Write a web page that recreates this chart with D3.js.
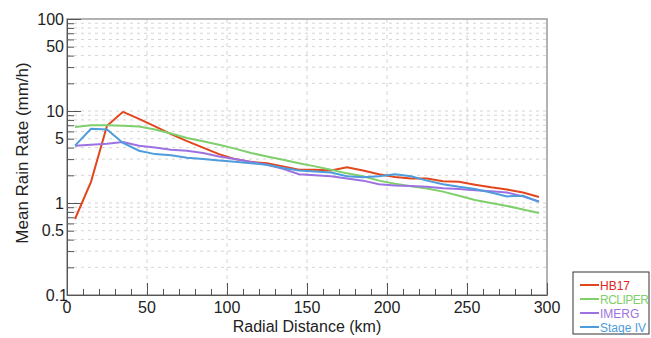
<!DOCTYPE html>
<meta charset="utf-8">
<head>
    <style>
        body { margin: 0; background: #fff; }
        text { font-family: "Liberation Sans", Arial, sans-serif; fill: #222; }
        .grid line { stroke: #d4d4d4; stroke-width: 1; }
    </style>
</head>
<body>
    <svg width="651" height="338"></svg>
</body>
<script src="https://d3js.org/d3.v7.min.js"></script>
<script>

    // radial bins (km)
    var distance = d3.range(5, 300, 10);

    var hb17 = [0.67, 1.7, 6.9, 9.8, 8.2, 6.8, 5.6, 4.7, 4.0, 3.4,
        3.0, 2.8, 2.7, 2.5, 2.3, 2.3, 2.25, 2.45, 2.25, 2.05,
        1.92, 1.85, 1.85, 1.72, 1.7, 1.58, 1.48, 1.4, 1.3, 1.16];
    var rcliper = [6.7, 7.0, 7.0, 6.9, 6.8, 6.3, 5.7, 5.1, 4.7, 4.3,
        3.9, 3.5, 3.2, 2.95, 2.7, 2.5, 2.3, 2.1, 1.95, 1.75,
        1.62, 1.52, 1.44, 1.33, 1.2, 1.08, 1.0, 0.93, 0.85, 0.78];
    var imerg = [4.2, 4.3, 4.4, 4.6, 4.2, 4.0, 3.8, 3.7, 3.5, 3.2,
        3.0, 2.8, 2.6, 2.35, 2.05, 2.0, 1.95, 1.85, 1.75, 1.6,
        1.55, 1.53, 1.5, 1.45, 1.42, 1.38, 1.34, 1.3, 1.18, 1.04];
    var stage4 = [4.2, 6.4, 6.3, 4.5, 3.7, 3.4, 3.3, 3.1, 3.0, 2.9,
        2.8, 2.7, 2.6, 2.4, 2.25, 2.2, 2.15, 1.95, 1.9, 1.95,
        2.05, 1.95, 1.75, 1.6, 1.5, 1.42, 1.3, 1.18, 1.2, 1.03];

    var seriesNames = ["HB17", "RCLIPER", "IMERG", "Stage IV"];
    var seriesColors = ["#e2461c", "#7fcf6c", "#9c72e2", "#4e9cdc"];
    var seriesValues = [hb17, rcliper, imerg, stage4];

    var xTicks = [0, 50, 100, 150, 200, 250, 300];
    var yTicks = [0.1, 0.5, 1, 5, 10, 50, 100];

    var svg = d3.select("svg"),
        pLeft = 67, pRight = 547, pTop = 19, pBottom = 295;

    var x = d3.scaleLinear().domain([0, 300]).range([pLeft, pRight]);
    var y = d3.scaleLog().domain([0.1, 100]).range([pBottom, pTop]);

    // all log steps 1..9 per decade
    var logSteps = [];
    [0.1, 1, 10].forEach(function (d) {
        for (var k = 1; k <= 9; k++) logSteps.push(+(d * k).toPrecision(3));
    });
    logSteps.push(100);

    // grid
    var grid = svg.append("g").attr("class", "grid");
    grid.selectAll(".hg")
        .data(logSteps.filter(function (d) { return d > 0.1 && d < 100; }))
        .enter().append("line")
        .attr("x1", pLeft).attr("x2", pRight)
        .attr("y1", function (d) { return y(d); })
        .attr("y2", function (d) { return y(d); })
        .attr("stroke-dasharray", "3,4");
    grid.selectAll(".vg")
        .data(xTicks.filter(function (d) { return d > 0 && d < 300; }))
        .enter().append("line")
        .attr("y1", pTop).attr("y2", pBottom)
        .attr("x1", function (d) { return x(d); })
        .attr("x2", function (d) { return x(d); })
        .attr("stroke-dasharray", "4,4");

    // frame
    svg.append("rect")
        .attr("x", pLeft).attr("y", pTop)
        .attr("width", pRight - pLeft).attr("height", pBottom - pTop)
        .attr("fill", "none").attr("stroke", "#999").attr("stroke-width", 1.5);

    // x axis ticks (inside, pointing up)
    var xAxis = d3.axisTop(x)
        .tickValues(d3.range(0, 301, 10))
        .tickSize(0)
        .tickFormat("");
    var gx = svg.append("g").attr("transform", "translate(0," + pBottom + ")").call(xAxis);
    gx.select(".domain").attr("stroke", "#555");
    gx.selectAll(".tick line")
        .attr("stroke", "#555")
        .attr("y2", function (d) { return d % 50 === 0 ? -12 : -6; });
    svg.append("g").selectAll("text")
        .data(xTicks).enter().append("text")
        .attr("x", function (d) { return x(d); })
        .attr("y", pBottom + 18)
        .attr("text-anchor", "middle")
        .attr("font-size", 16)
        .text(function (d) { return d; });

    // y axis ticks (inside, pointing right)
    var yAxis = d3.axisRight(y)
        .tickValues(logSteps)
        .tickSize(0)
        .tickFormat("");
    var gy = svg.append("g").attr("transform", "translate(" + pLeft + ",0)").call(yAxis);
    gy.select(".domain").attr("stroke", "#555");
    gy.selectAll(".tick line")
        .attr("stroke", "#555")
        .attr("x2", function (d) { return (d === 0.1 || d === 1 || d === 10 || d === 100) ? 14 : 7; });
    svg.append("g").selectAll("text")
        .data(yTicks).enter().append("text")
        .attr("x", function (d) { return d === 0.1 ? pLeft + 1 : pLeft - 3; })
        .attr("y", function (d) { return y(d) + 5.5; })
        .attr("text-anchor", "end")
        .attr("font-size", 16)
        .text(function (d) { return d; });

    // axis titles
    svg.append("text")
        .attr("transform", "translate(28,153) rotate(-90)")
        .attr("text-anchor", "middle")
        .attr("font-size", 17)
        .text("Mean Rain Rate (mm/h)");
    svg.append("text")
        .attr("x", 307).attr("y", 332)
        .attr("text-anchor", "middle")
        .attr("font-size", 16)
        .text("Radial Distance (km)");

    // lines
    var line = d3.line()
        .x(function (d, i) { return x(distance[i]); })
        .y(function (d) { return y(d); });

    svg.append("g").selectAll("path")
        .data(seriesValues).enter().append("path")
        .attr("d", line)
        .attr("fill", "none")
        .attr("stroke", function (d, i) { return seriesColors[i]; })
        .attr("stroke-width", 2);

    // legend
    var legend = svg.append("g").attr("transform", "translate(573,272)");
    legend.append("rect")
        .attr("width", 76).attr("height", 62)
        .attr("fill", "#fff").attr("stroke", "#333").attr("stroke-width", 1);
    var item = legend.selectAll(".item")
        .data(seriesNames).enter().append("g")
        .attr("transform", function (d, i) { return "translate(0," + (13 + i * 14) + ")"; });
    item.append("line")
        .attr("x1", 7).attr("x2", 26)
        .attr("stroke", function (d, i) { return seriesColors[i]; })
        .attr("stroke-width", 2);
    item.append("text")
        .attr("x", 27).attr("y", 4.5)
        .attr("font-size", 12)
        .attr("textLength", function (d) { return d === "RCLIPER" ? 49 : null; })
        .style("fill", function (d, i) { return i === 0 ? "#e02424" : seriesColors[i]; })
        .text(function (d) { return d; });

</script>
